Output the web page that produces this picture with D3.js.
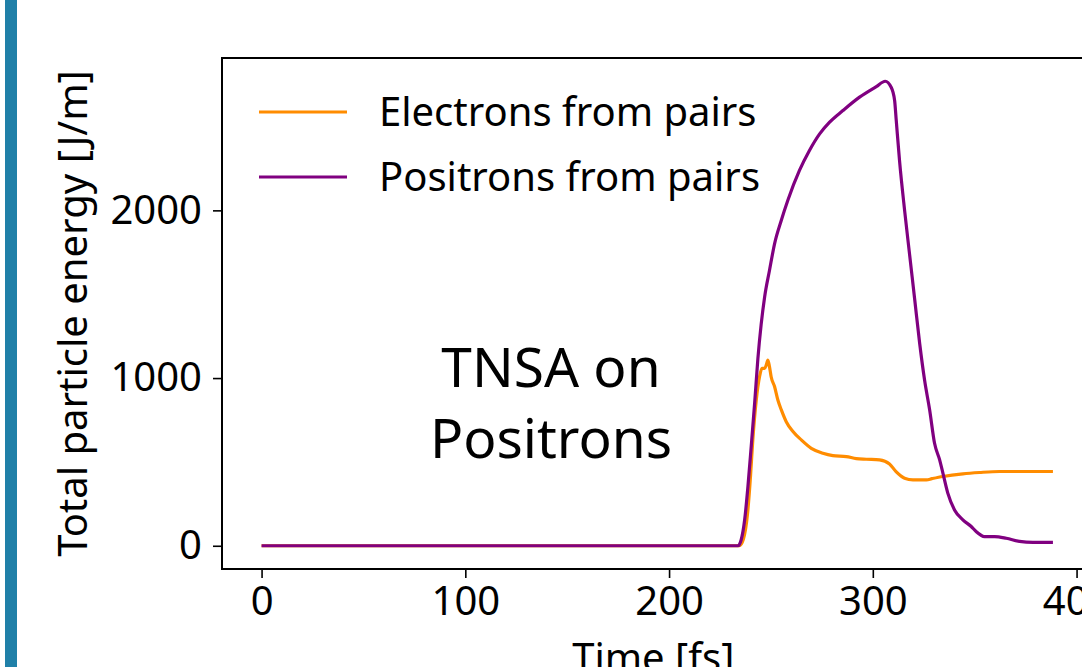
<!DOCTYPE html>
<html>
<head>
<meta charset="utf-8">
<script src="https://cdn.jsdelivr.net/npm/d3@7"></script>
<style>
  html, body { margin: 0; padding: 0; background: #fff; }
  svg { display: block; font-family: "Noto Sans", "Open Sans", sans-serif; }
</style>
</head>
<body>
<svg id="chart" width="1082" height="667"></svg>
<script>
// Time samples [fs] and total energies [J/m]
const positronTime = [0, 100, 200, 233.8, 235.4, 237.1, 238.7, 240.3, 242.0, 243.6, 245.2, 246.9, 249.3, 251.8, 255.1, 258.3, 264.0, 268.9, 273.9, 278.8, 285.3, 293.5, 301.7, 306.1, 309.0, 310.7, 311.5, 313.1, 315.6, 318.0, 320.6, 323.0, 325.4, 327.9, 330.3, 332.8, 334.4, 336.8, 340.1, 344.2, 348.3, 350.7, 354.8, 359.8, 365.5, 372.0, 378.6, 388.4];
const positronEnergy = [0, 0, 0, 0, 36, 155, 353, 590, 850, 1117, 1320, 1484, 1643, 1802, 1941, 2060, 2238, 2357, 2456, 2526, 2595, 2675, 2738, 2770, 2734, 2655, 2536, 2298, 2000, 1742, 1464, 1206, 988, 810, 611, 512, 433, 314, 214, 155, 115, 85, 55, 55, 45, 26, 20, 20];

const electronTime = [0, 100, 200, 234.5, 236.5, 238.5, 240.0, 241.1, 242.8, 244.4, 245.6, 246.9, 247.7, 248.5, 249.3, 250.1, 251.8, 253.4, 255.1, 257.5, 260.8, 264.9, 269.8, 275.5, 280.4, 287.0, 291.9, 296.8, 303.3, 308.2, 311.4, 315.6, 319.7, 323.0, 326.3, 329.0, 334.4, 344.2, 352.4, 362.2, 375.0, 388.4];
const electronEnergy = [0, 0, 0, 0, 40, 190, 420, 631, 869, 1008, 1058, 1058, 1077, 1107, 1067, 1008, 948, 869, 810, 740, 681, 631, 581, 552, 538, 532, 520, 516, 512, 488, 442, 403, 393, 393, 393, 400, 413, 429, 437, 443, 443, 443];

const seriesNames = ["Electrons from pairs", "Positrons from pairs"];
const seriesColors = ["#ff8c00", "#800080"];

const xTicks = [0, 100, 200, 300, 400];
const yTicks = [0, 1000, 2000];

const svg = d3.select("#chart");

// Accent strip on the left edge of the slide
svg.append("rect")
  .attr("x", 5).attr("y", 0).attr("width", 12).attr("height", 667)
  .attr("fill", "#2080a8");

// Plot area
const plot = { left: 222, top: 58, bottom: 569, right: 1092.5 };

const allT = positronTime.concat(electronTime);
const allE = positronEnergy.concat(electronEnergy);
const [tMin, tMax] = d3.extent(allT);
const [eMin, eMax] = d3.extent(allE);
const tPad = (tMax - tMin) * 0.05, ePad = (eMax - eMin) * 0.05;

const x = d3.scaleLinear().domain([tMin - tPad, tMax + tPad]).range([plot.left, plot.right]);
const y = d3.scaleLinear().domain([eMin - ePad, eMax + ePad]).range([plot.bottom, plot.top]);

const line = d3.line()
  .x(d => x(d[0]))
  .y(d => y(d[1]))
  .curve(d3.curveMonotoneX);

const series = [
  d3.zip(electronTime, electronEnergy),
  d3.zip(positronTime, positronEnergy)
];

svg.append("clipPath").attr("id", "plotclip")
  .append("rect")
  .attr("x", plot.left).attr("y", plot.top)
  .attr("width", plot.right - plot.left).attr("height", plot.bottom - plot.top);

svg.append("g").attr("clip-path", "url(#plotclip)")
  .selectAll("path.series")
  .data(series)
  .join("path")
  .attr("class", "series")
  .attr("d", line)
  .attr("fill", "none")
  .attr("stroke", (d, i) => seriesColors[i])
  .attr("stroke-width", 3.2)
  .attr("stroke-linejoin", "round")
  .attr("stroke-linecap", "butt");

// Frame
svg.append("rect")
  .attr("x", plot.left).attr("y", plot.top)
  .attr("width", plot.right - plot.left).attr("height", plot.bottom - plot.top)
  .attr("fill", "none").attr("stroke", "#000").attr("stroke-width", 2);

// Axes
const fontSize = 40;
const xAxis = svg.append("g")
  .attr("transform", `translate(0,${plot.bottom})`)
  .call(d3.axisBottom(x).tickValues(xTicks).tickSize(9).tickPadding(9).tickFormat(d3.format("d")));
const yAxis = svg.append("g")
  .attr("transform", `translate(${plot.left},0)`)
  .call(d3.axisLeft(y).tickValues(yTicks).tickSize(9).tickPadding(11).tickFormat(d3.format("d")));

[xAxis, yAxis].forEach(g => {
  g.select(".domain").remove();
  g.selectAll(".tick line").attr("stroke", "#000").attr("stroke-width", 1.6);
  g.selectAll(".tick text")
    .attr("fill", "#000")
    .style("font-family", "'Noto Sans', 'Open Sans', sans-serif")
    .style("font-size", fontSize + "px");
});

// Axis titles
svg.append("text")
  .attr("x", (plot.left + plot.right) / 2 - 4)
  .attr("y", 672)
  .attr("text-anchor", "middle")
  .style("font-size", fontSize + "px")
  .text("Time [fs]");

svg.append("text")
  .attr("transform", `translate(87,${(plot.top + plot.bottom) / 2}) rotate(-90)`)
  .attr("text-anchor", "middle")
  .style("font-size", fontSize + "px")
  .text("Total particle energy [J/m]");

// Legend
const legend = svg.append("g");
seriesNames.forEach((name, i) => {
  const ly = 112 + i * 65;
  legend.append("line")
    .attr("x1", 259).attr("x2", 347).attr("y1", ly).attr("y2", ly)
    .attr("stroke", seriesColors[i]).attr("stroke-width", 3.2);
  legend.append("text")
    .attr("x", 379).attr("y", ly)
    .attr("dy", "0.35em")
    .style("font-size", fontSize + "px")
    .text(name);
});

// Annotation
const note = svg.append("text")
  .attr("text-anchor", "middle")
  .style("font-size", "55px");
note.append("tspan").attr("x", 551).attr("y", 387).text("TNSA on");
note.append("tspan").attr("x", 551).attr("y", 458).text("Positrons");
</script>
</body>
</html>
